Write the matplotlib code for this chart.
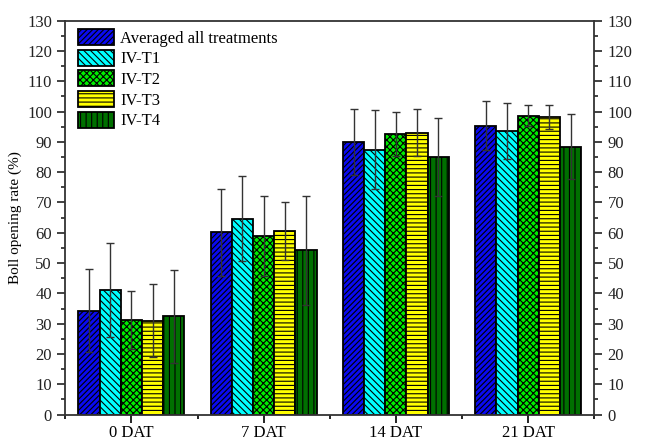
import numpy as np
import matplotlib
matplotlib.use('Agg')
import matplotlib.pyplot as plt
from matplotlib.ticker import MultipleLocator, FixedLocator

plt.rcParams['font.family'] = 'Liberation Serif'
plt.rcParams['hatch.linewidth'] = 0.8

categorias = ['0 DAT', '7 DAT', '14 DAT', '21 DAT']
series = ['Averaged all treatments', 'IV-T1', 'IV-T2', 'IV-T3', 'IV-T4']

promedio = [34.3, 60.1, 90.0, 95.4]
t1 = [41.1, 64.7, 87.4, 93.7]
t2 = [31.3, 59.0, 92.6, 98.7]
t3 = [31.0, 60.6, 93.1, 98.2]
t4 = [32.4, 54.2, 84.9, 88.4]

err_prom = [13.8, 14.5, 11.0, 8.2]
err_t1 = [15.5, 13.9, 13.0, 9.2]
err_t2 = [9.5, 13.2, 7.4, 3.4]
err_t3 = [12.0, 9.5, 7.8, 4.0]
err_t4 = [15.3, 18.0, 12.9, 10.8]

valores = [promedio, t1, t2, t3, t4]
errores = [err_prom, err_t1, err_t2, err_t3, err_t4]
colores = ['#0a0af0', '#00ffff', '#00ee00', '#ffff00', '#007000']
tramas = ['//////', '\\\\\\\\\\', 'xxxxx', '----', '|||']

fig = plt.figure(figsize=(6.46, 4.41), dpi=100)
ax = fig.add_axes([0.101, 0.060, 0.819, 0.893])

x = np.arange(len(categorias))
ancho = 0.16
for i in range(len(series)):
    pos = x + (i - 2) * ancho
    ax.bar(pos, valores[i], ancho, color=colores[i], edgecolor='black',
           hatch=tramas[i], linewidth=1.3, label=series[i], zorder=2)
    ax.errorbar(pos, valores[i], yerr=errores[i], fmt='none', ecolor='#333333',
                elinewidth=1, capsize=2.8, capthick=1, zorder=3)

ax.set_xlim(-0.5, 3.5)
ax.set_ylim(0, 130)
ax.set_xticks(x)
ax.set_xticklabels(categorias, fontsize=12)
ax.xaxis.set_minor_locator(FixedLocator([-0.5, 0.5, 1.5, 2.5, 3.5]))
ax.yaxis.set_major_locator(MultipleLocator(10))
ax.yaxis.set_minor_locator(MultipleLocator(5))
ax.tick_params(axis='y', which='both', direction='out', left=True, right=True,
               labelleft=True, labelright=True, labelsize=12, colors='#222222')
ax.tick_params(axis='x', which='both', direction='out', top=False, labelsize=12,
               pad=1.5)
ax.tick_params(which='major', length=6, width=1.2)
ax.tick_params(which='minor', length=3, width=1.2)
for s in ax.spines.values():
    s.set_linewidth(1.3)
    s.set_color('#333333')
ax.set_ylabel('Boll opening rate (%)', fontsize=11)

ax.legend(loc='upper left', bbox_to_anchor=(0.008, 1.0), frameon=False,
          fontsize=12, handlelength=2.2, handleheight=1.1, labelspacing=0.18,
          handletextpad=0.35, borderaxespad=0.2, borderpad=0.3)

fig.savefig('out.png', dpi=100)
